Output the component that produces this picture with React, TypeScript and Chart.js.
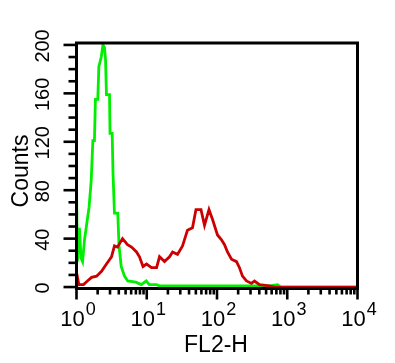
import { useEffect, useRef } from 'react';
import { Chart, registerables } from 'chart.js';

Chart.register(...registerables);

// FL2-H channel values (log axis) and counts
const greenX = [1.0, 1.03, 1.1, 1.16, 1.22, 1.3, 1.39, 1.51, 1.62, 1.71, 1.8, 1.86, 2.01, 2.08, 2.25, 2.38, 2.5, 2.59, 2.67, 2.95, 3.0, 3.22, 3.31, 3.47, 3.87, 4.03, 4.33, 4.82, 5.37, 6.99, 8.34, 9.83, 10.9, 13.7, 15.2, 21.1, 472, 560, 728, 804, 10000];
const greenY = [86, 21, 49, 24, 21, 39, 51, 66, 88, 121, 121, 155, 155, 182, 190, 200, 198, 188, 159, 159, 127, 127, 94, 61, 61, 34, 17, 9, 5, 4, 2, 5, 2, 2, 1, 1, 1, 1, 2, 0, 0];

const redX = [1.0, 1.01, 1.08, 1.26, 1.43, 1.64, 1.93, 2.27, 2.67, 3.15, 3.47, 3.83, 4.52, 5.32, 6.07, 7.15, 7.88, 8.85, 9.92, 11.7, 13.8, 15.2, 17.9, 21.1, 23.3, 27.4, 32.3, 38.0, 44.8, 50.2, 59.2, 66.4, 76.9, 86.2, 101.6, 115.9, 127.9, 141, 160.8, 189.6, 209, 230.6, 263, 309.7, 341.7, 402.7, 558, 660, 10000];
const redY = [0, 11, 2, 2, 5, 8, 9, 13, 19, 25, 34, 33, 40, 35, 33, 29, 25, 17, 19, 16, 16, 25, 21, 25, 29, 27, 34, 47, 49, 64, 64, 51, 64, 56, 43, 39, 35, 29, 23, 21, 16, 9, 5, 3, 5, 2, 1, 0, 0];

const yTickLabels = [0, 40, 80, 120, 160, 200];
const xDecades = [0, 1, 2, 3, 4];
const xTitle = 'FL2-H';
const yTitle = 'Counts';

const FONT = '"Liberation Sans", Arial, sans-serif';

const axesPlugin = {
  id: 'facsAxes',
  afterDatasetsDraw(chart: any) {
    const { ctx, chartArea: a, scales } = chart;
    const xs = scales.x;
    const ys = scales.y;
    ctx.save();
    ctx.strokeStyle = '#000';
    ctx.fillStyle = '#000';
    ctx.lineWidth = 3;
    ctx.strokeRect(a.left, a.top, a.right - a.left, a.bottom - a.top);

    // y ticks every 10, long every 40
    ctx.lineWidth = 2.6;
    for (let v = 0; v <= 200; v += 10) {
      const py = ys.getPixelForValue(v);
      const major = v % 40 === 0;
      ctx.beginPath();
      ctx.moveTo(a.left, py);
      ctx.lineTo(a.left - (major ? 13 : 8), py);
      ctx.stroke();
    }
    // x ticks: decades long, 2..9 short
    for (let d = 0; d < 4; d++) {
      for (let m = 1; m <= 9; m++) {
        const px = xs.getPixelForValue(m * Math.pow(10, d));
        ctx.beginPath();
        ctx.moveTo(px, a.bottom);
        ctx.lineTo(px, a.bottom + (m === 1 ? 11 : 6));
        ctx.stroke();
      }
    }
    {
      const px = xs.getPixelForValue(10000);
      ctx.beginPath();
      ctx.moveTo(px, a.bottom);
      ctx.lineTo(px, a.bottom + 11);
      ctx.stroke();
    }

    // x tick labels 10^k
    for (const d of xDecades) {
      const px = xs.getPixelForValue(Math.pow(10, d));
      ctx.font = `22px ${FONT}`;
      const wb = ctx.measureText('10').width;
      ctx.font = `18px ${FONT}`;
      const we = ctx.measureText(String(d)).width;
      const start = px - (wb + we) / 2 + 1;
      ctx.textAlign = 'left';
      ctx.textBaseline = 'alphabetic';
      ctx.font = `22px ${FONT}`;
      ctx.fillText('10', start, 326);
      ctx.font = `18px ${FONT}`;
      ctx.fillText(String(d), start + wb + 1, 315);
    }

    // y tick labels rotated
    ctx.font = `20px ${FONT}`;
    ctx.textAlign = 'center';
    for (const v of yTickLabels) {
      const py = ys.getPixelForValue(v);
      ctx.save();
      ctx.translate(49, py + 1);
      ctx.rotate(-Math.PI / 2);
      ctx.fillText(String(v), 0, 0);
      ctx.restore();
    }

    // titles
    ctx.font = `23px ${FONT}`;
    ctx.textAlign = 'center';
    ctx.fillText(xTitle, (a.left + a.right) / 2 - 1, 352);
    ctx.save();
    ctx.translate(28, 171);
    ctx.rotate(-Math.PI / 2);
    ctx.fillText(yTitle, 0, 0);
    ctx.restore();
    ctx.restore();
  },
};

export default function App() {
  const ref = useRef<HTMLCanvasElement | null>(null);
  useEffect(() => {
    if (!ref.current) return;
    const chart = new Chart(ref.current, {
      type: 'line',
      data: {
        datasets: [
          {
            label: 'red',
            data: redX.map((x, i) => ({ x, y: redY[i] })),
            borderColor: '#cc0000',
            borderWidth: 2.8,
            pointRadius: 0,
            tension: 0,
            fill: false,
          },
          {
            label: 'green',
            data: greenX.map((x, i) => ({ x, y: greenY[i] })),
            borderColor: '#00ee00',
            borderWidth: 2.8,
            pointRadius: 0,
            tension: 0,
            fill: false,
          },
        ],
      },
      options: {
        responsive: false,
        animation: false,
        devicePixelRatio: 1,
        layout: { padding: { left: 76.5, right: 37.5, top: 43, bottom: 74.5 } },
        plugins: { legend: { display: false }, tooltip: { enabled: false } },
        scales: {
          x: { type: 'logarithmic', min: 1, max: 10000, display: false },
          y: { type: 'linear', min: -1.2, max: 201.6, display: false },
        },
      },
      plugins: [axesPlugin],
    });
    return () => chart.destroy();
  }, []);
  return (
    <div style={{ position: 'absolute', left: 0, top: 0, width: 395, height: 363, background: '#fff' }}>
      <canvas ref={ref} width={395} height={363} />
    </div>
  );
}
